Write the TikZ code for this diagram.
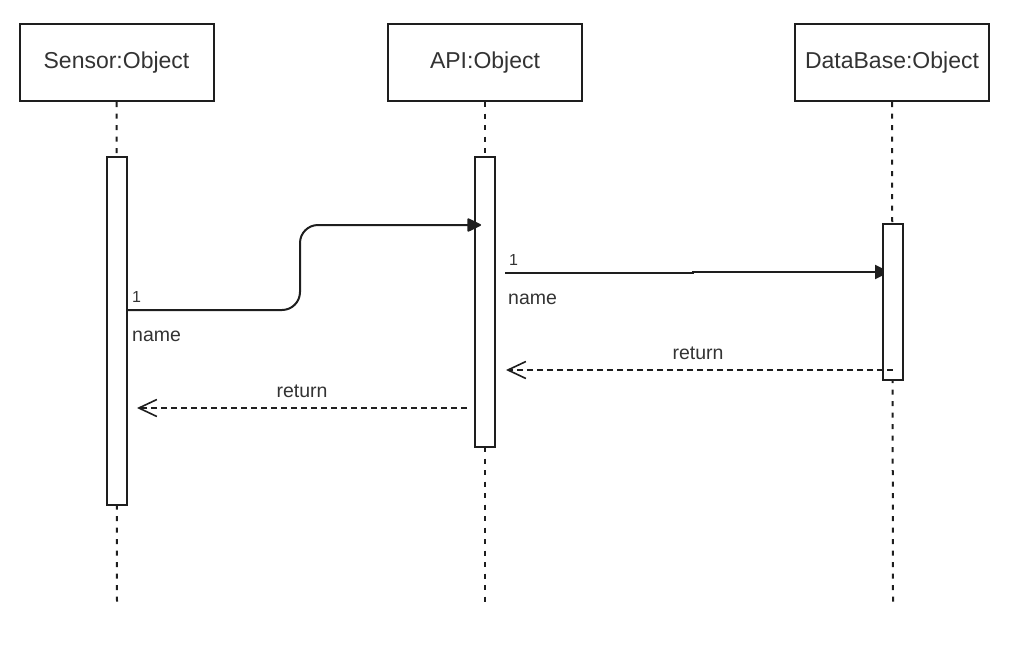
\documentclass[tikz,border=0pt]{standalone}
\usepackage{fontspec}
\setmainfont{Liberation Sans}
\usetikzlibrary{arrows.meta}
\definecolor{ink}{HTML}{1E1E1E}
\definecolor{txt}{HTML}{333333}
\begin{document}
\begin{tikzpicture}[x=1pt,y=-1pt,
  objbox/.style={draw=ink,line width=2pt,fill=white,minimum width=194pt,minimum height=77pt,inner sep=0pt,
    text=txt,font=\fontsize{23}{27}\selectfont},
  life/.style={draw=ink,line width=2pt,dash pattern=on 5pt off 6.5pt},
  actbar/.style={draw=ink,line width=2pt,fill=white},
  msg/.style={draw=ink,line width=2pt},
  ret/.style={draw=ink,line width=1.8pt,dash pattern=on 6pt off 4pt},
  lbl/.style={text=txt,inner sep=0pt,font=\fontsize{19.5}{22}\selectfont},
  numlbl/.style={text=txt,inner sep=0pt,font=\fontsize{16}{19}\selectfont}]
\useasboundingbox (0,0) rectangle (1025,654);
% objects
\node[objbox] (sensor) at (116.5,62.5) {Sensor:Object};
\node[objbox] (api) at (485,62.5) {API:Object};
\node[objbox] (db) at (892,62.5) {DataBase:Object};
% lifeline ends
\coordinate (sensorEnd) at (117,602);
\coordinate (apiEnd) at (485,602);
\coordinate (dbEnd) at (893,602);
\draw[life] (sensor.south) -- (sensorEnd);
\draw[life] (api.south) -- (apiEnd);
\draw[life] (db.south) -- (dbEnd);
% message 2 (head partly hidden by bar)
\coordinate (m2s) at (505,273);
\coordinate (m2k1) at (693,273);
\coordinate (m2k2) at (693,272);
\coordinate (m2e) at (890,272);
\draw[msg,-{Triangle[length=15pt,width=14pt]}] (m2s) -- (m2k1) -- (m2k2) -- (m2e);
% activation bars
\path[actbar] (107,157) rectangle (127,505);
\node[inner sep=0pt,minimum size=0pt] (sbar) at (117,331) {};
\path[actbar] (475,157) rectangle (495,447);
\node[inner sep=0pt,minimum size=0pt] (abar) at (485,302) {};
\path[actbar] (883,224) rectangle (903,380);
\node[inner sep=0pt,minimum size=0pt] (dbar) at (893,302) {};
% message 1
\coordinate (m1s) at (127,310);
\coordinate (m1k) at (300,310);
\coordinate (m1u) at (300,225);
\coordinate (m1e) at (481,225);
\draw[msg,rounded corners=18pt,-{Triangle[length=15pt,width=14pt,round=false]}] (m1s) -- (m1k) -- (m1u) -- (m1e);
% returns
\coordinate (r1s) at (893,370);
\coordinate (r1e) at (506,370);
\draw[ret,-{Straight Barb[length=18pt,width=17pt,line width=1.6pt]}] (r1s) -- (r1e);
\coordinate (r2s) at (467,408);
\coordinate (r2e) at (137,408);
\draw[ret,-{Straight Barb[length=18pt,width=17pt,line width=1.6pt]}] (r2s) -- (r2e);
% labels
\node[numlbl,anchor=west] (l1a) at (132,297) {1};
\node[lbl,anchor=west] (n1a) at (132,336) {name};
\node[numlbl,anchor=west] (l1b) at (509,260) {1};
\node[lbl,anchor=west] (n1b) at (508,299) {name};
\node[lbl] (rt1) at (698,353) {return};
\node[lbl] (rt2) at (302,391) {return};
\end{tikzpicture}
\end{document}
